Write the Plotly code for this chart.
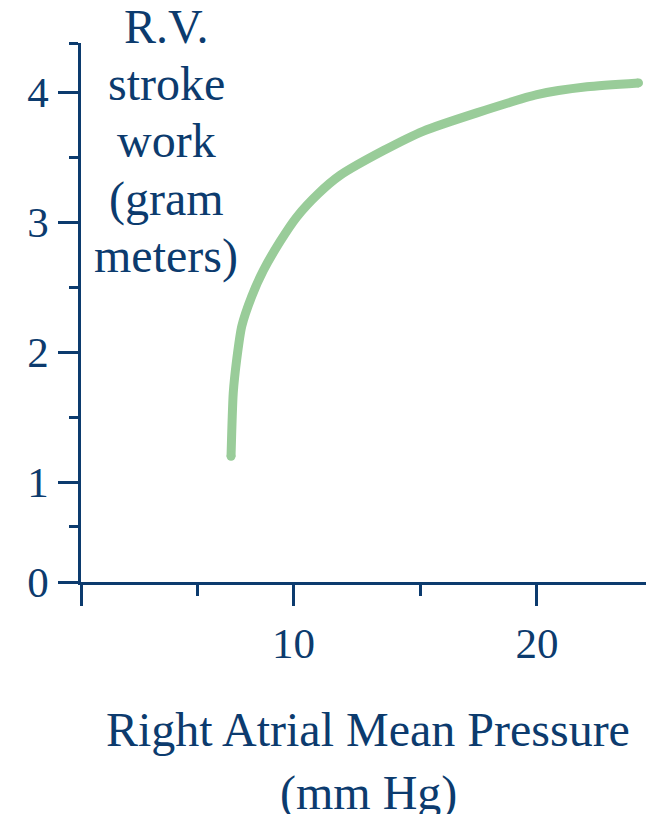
import plotly.graph_objects as go

# Curve: right atrial mean pressure (mm Hg) vs R.V. stroke work (gram meters)
pressure = [7.44, 7.53, 7.67, 7.88, 8.29, 8.77, 9.45, 10.14, 11.03, 11.92,
            13.70, 15.34, 17.53, 20.0, 22.05, 24.17]
stroke_work = [1.20, 1.685, 1.94, 2.20, 2.43, 2.63, 2.85, 3.04, 3.22, 3.36,
               3.55, 3.70, 3.84, 3.98, 4.04, 4.07]

# Axis extents and ticks as drawn in the original
x_min, x_max = 1.28, 24.6
y_min, y_max = 0.234, 4.377
x_major = [x_min, 10, 20]
x_major_text = ["", "10", "20"]
x_minor = [6.07, 15.2, x_max]
y_major = [y_min, 1, 2, 3, 4]
y_major_text = ["0", "1", "2", "3", "4"]
y_minor = [0.66, 1.5, 2.5, 3.5, y_max]

y_title_lines = ["R.V.", "stroke", "work", "(gram", "meters)"]
x_title_lines = ["Right Atrial Mean Pressure", "(mm Hg)"]

NAVY = "#0c3b6e"
GREEN = "#99cc99"
FONT = "Liberation Serif"

# page has an 8px body margin; plot area wanted at page pixels below
BODY = 8
L, T, W, H = 81, 43, 568, 539
FIG_W, FIG_H = 654 - BODY, 814 - BODY

fig = go.Figure()
fig.add_trace(go.Scatter(
    x=pressure, y=stroke_work, mode="lines",
    line=dict(color=GREEN, width=9, shape="spline", smoothing=0.6),
    hoverinfo="skip", showlegend=False))
fig.add_trace(go.Scatter(
    x=[pressure[0], pressure[-1]], y=[stroke_work[0], stroke_work[-1]],
    mode="markers", marker=dict(color=GREEN, size=9, line=dict(width=0)),
    hoverinfo="skip", showlegend=False))

axis_common = dict(
    showgrid=False, zeroline=False, showline=True, linecolor=NAVY, linewidth=2.5,
    ticks="outside", tickcolor=NAVY, tickwidth=2.5, tickmode="array",
    tickfont=dict(family=FONT, size=43, color=NAVY), automargin=False,
)
fig.update_xaxes(
    **axis_common, range=[x_min, x_max], tickvals=x_major, ticktext=x_major_text,
    ticklen=21, ticklabelstandoff=1,
    minor=dict(tickvals=x_minor, ticks="outside", ticklen=11, tickwidth=2.5,
               tickcolor=NAVY, showgrid=False),
)
fig.update_yaxes(
    **axis_common, range=[y_min, y_max], tickvals=y_major, ticktext=y_major_text,
    ticklen=20, ticklabelstandoff=1,
    minor=dict(tickvals=y_minor, ticks="outside", ticklen=9, tickwidth=2.5,
               tickcolor=NAVY, showgrid=False),
)

# y title: one annotation per line (tighter line spacing than Plotly's default)
for i, line in enumerate(y_title_lines):
    py = 26 + 57.5 * i
    fig.add_annotation(
        text=line, xref="paper", yref="paper",
        x=(166 - L) / W, y=(T + H - py) / H,
        xanchor="center", yanchor="middle", showarrow=False,
        font=dict(family=FONT, size=48, color=NAVY))

for i, line in enumerate(x_title_lines):
    py = 729.5 + 63.5 * i
    fig.add_annotation(
        text=line, xref="paper", yref="paper",
        x=(368 - L) / W, y=(T + H - py) / H,
        xanchor="center", yanchor="middle", showarrow=False,
        font=dict(family=FONT, size=48, color=NAVY))

fig.update_layout(
    width=FIG_W, height=FIG_H,
    margin=dict(l=L - BODY, r=FIG_W - (L - BODY) - W, t=T - BODY,
                b=FIG_H - (T - BODY) - H, autoexpand=False),
    paper_bgcolor="white", plot_bgcolor="white",
)

fig.write_html("out.html")
